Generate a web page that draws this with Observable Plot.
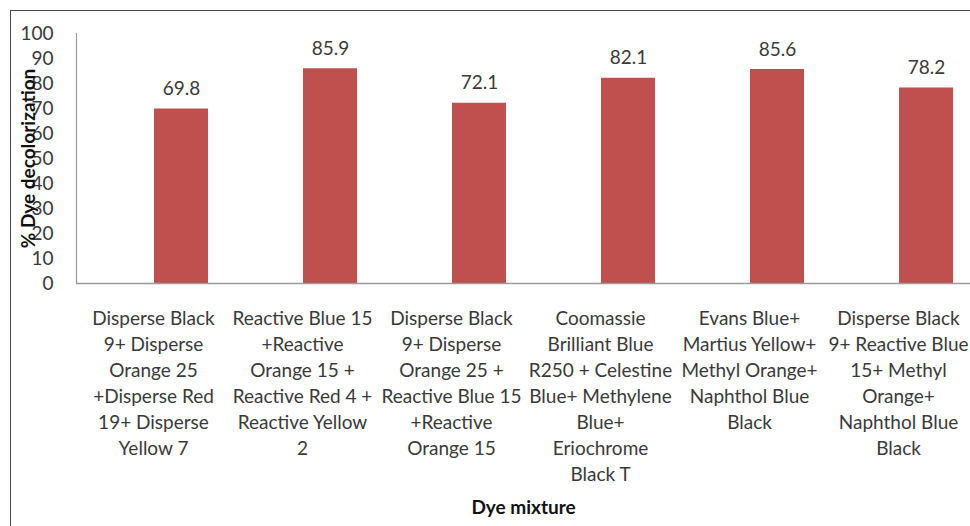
<!DOCTYPE html>
<html>
<head>
<meta charset="utf-8">
<script src="https://cdn.jsdelivr.net/npm/d3@7"></script>
<script src="https://cdn.jsdelivr.net/npm/@observablehq/plot@0.6"></script>
<style>
  html, body { margin: 0; padding: 0; background: #fff; }
  #wrap { position: relative; width: 970px; height: 526px; overflow: hidden; }
  #border { position: absolute; left: 10px; top: 10px; right: 0; bottom: 0;
            border-left: 1.5px solid #4a4a4a; border-top: 1.5px solid #4a4a4a; pointer-events: none; }
  #chart { position: absolute; left: 0; top: 0; }
</style>
</head>
<body>
<div id="wrap"><div id="chart"></div><div id="border"></div></div>
<script>
const categories = [
  "Disperse Black\n9+ Disperse\nOrange 25\n+Disperse Red\n19+ Disperse\nYellow 7",
  "Reactive Blue 15\n+Reactive\nOrange 15 +\nReactive Red 4 +\nReactive Yellow\n2",
  "Disperse Black\n9+ Disperse\nOrange 25 +\nReactive Blue 15\n+Reactive\nOrange 15",
  "Coomassie\nBrilliant Blue\nR250 + Celestine\nBlue+ Methylene\nBlue+\nEriochrome\nBlack T",
  "Evans Blue+\nMartius Yellow+\nMethyl Orange+\nNaphthol Blue\nBlack",
  "Disperse Black\n9+ Reactive Blue\n15+ Methyl\nOrange+\nNaphthol Blue\nBlack"
];
const values = [69.8, 85.9, 72.1, 82.1, 85.6, 78.2];
const yTicks = [0, 10, 20, 30, 40, 50, 60, 70, 80, 90, 100];
const yLabel = "% Dye decolorization";
const xLabel = "Dye mixture";

const data = categories.map((c, i) => ({name: c, value: values[i]}));
const font = "Lato, 'Open Sans', sans-serif";
const textColor = "#3a3a3a";
const fs = 19;

const chart = Plot.plot({
  width: 970,
  height: 526,
  marginLeft: 76,
  marginRight: 0,
  marginTop: 33,
  marginBottom: 243,
  style: {fontFamily: font, color: textColor, background: "transparent", overflow: "visible"},
  x: {domain: categories, range: [76, 975], paddingInner: 0.64, paddingOuter: 0.32},
  y: {domain: [0, 100]},
  marks: [
    Plot.frame({anchor: "left", stroke: "#9a9a9a", strokeWidth: 1.2}),
    Plot.barY(data, {x: "name", y: "value", fill: "#C0504D", dx: 28}),
    Plot.ruleY([0], {stroke: "#9a9a9a", strokeWidth: 1.5}),
    Plot.text(data, {x: "name", y: "value", text: d => d.value.toFixed(1), dy: -20, dx: 28,
      fontSize: fs, fill: textColor}),
    Plot.axisY({ticks: yTicks, tickSize: 0, tickPadding: 23, fontSize: fs, label: null, fill: textColor}),
    Plot.axisX({tickSize: 0, tickPadding: 23, fontSize: fs, lineHeight: 26 / fs, label: null,
      fill: textColor, textOverflow: null}),
    Plot.text([yLabel], {frameAnchor: "left", textAnchor: "middle", rotate: -90, dx: -48, fontSize: fs,
      fontWeight: "bold", fill: "#111", text: d => d}),
    Plot.text([xLabel], {frameAnchor: "bottom", dy: 230, fontSize: fs,
      fontWeight: "bold", fill: "#111", text: d => d})
  ]
});
document.getElementById("chart").appendChild(chart);
</script>
</body>
</html>
